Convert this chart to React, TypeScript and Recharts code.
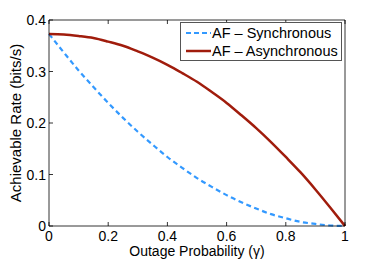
import React from 'react';
import { Line, LineChart, XAxis, YAxis } from 'recharts';

const outage = [0, 0.05, 0.1, 0.15, 0.2, 0.25, 0.3, 0.35, 0.4, 0.45, 0.5, 0.55, 0.6, 0.65, 0.7, 0.75, 0.8, 0.85, 0.9, 0.95, 1];
const synchronous = [0.373, 0.337, 0.302, 0.27, 0.239, 0.21, 0.183, 0.158, 0.134, 0.113, 0.093, 0.076, 0.06, 0.046, 0.034, 0.023, 0.015, 0.008, 0.004, 0.001, 0];
const asynchronous = [0.373, 0.372, 0.369, 0.365, 0.358, 0.35, 0.339, 0.327, 0.313, 0.297, 0.28, 0.26, 0.239, 0.215, 0.19, 0.163, 0.134, 0.104, 0.071, 0.036, 0];
const xTicks = [0, 0.2, 0.4, 0.6, 0.8, 1];
const yTicks = [0, 0.1, 0.2, 0.3, 0.4];

const data = outage.map((g, i) => ({ g, sync: synchronous[i], async: asynchronous[i] }));

const BLUE = '#3399ff';
const RED = '#a01c0c';
const FONT = '"Liberation Sans", Arial, sans-serif';

const BottomTick = ({ x, y, payload }: any) => (
  <g>
    <line x1={x} x2={x} y1={y} y2={y - 4} stroke="#000" strokeWidth={0.8} />
    <text x={x} y={y + 15} textAnchor="middle" fontSize={14} fontFamily={FONT} fill="#000">
      {payload.value}
    </text>
  </g>
);

const TopTick = ({ x, y }: any) => (
  <line x1={x} x2={x} y1={y} y2={y + 4} stroke="#000" strokeWidth={0.8} />
);

const LeftTick = ({ x, y, payload }: any) => (
  <g>
    <line x1={x} x2={x + 4} y1={y} y2={y} stroke="#000" strokeWidth={0.8} />
    <text x={x - 3} y={y + 5} textAnchor="end" fontSize={14} fontFamily={FONT} fill="#000">
      {payload.value}
    </text>
  </g>
);

const RightTick = ({ x, y }: any) => (
  <line x1={x} x2={x - 4} y1={y} y2={y} stroke="#000" strokeWidth={0.8} />
);

const LegendBox = () => (
  <div
    style={{
      position: 'absolute',
      left: 180,
      top: 22,
      border: '1px solid #555',
      background: '#fff',
      width: 162,
      height: 39,
      fontFamily: FONT,
      fontSize: 14.5,
      lineHeight: '18px',
      padding: '1px 0 0 4px',
      boxSizing: 'border-box',
    }}
  >
    <div style={{ display: 'flex', alignItems: 'center' }}>
      <svg width={26} height={10}>
        <line x1={1} x2={26} y1={5} y2={5} stroke={BLUE} strokeWidth={2} strokeDasharray="5 3" />
      </svg>
      <span style={{ marginLeft: 1 }}>AF – Synchronous</span>
    </div>
    <div style={{ display: 'flex', alignItems: 'center' }}>
      <svg width={26} height={10}>
        <line x1={1} x2={26} y1={5} y2={5} stroke={RED} strokeWidth={2.5} />
      </svg>
      <span style={{ marginLeft: 1 }}>AF – Asynchronous</span>
    </div>
  </div>
);

const axisLine = { stroke: '#000', strokeWidth: 0.8 };

export default function App() {
  return (
    <div style={{ position: 'absolute', left: 0, top: 0, width: 382, height: 261, background: '#fff' }}>
      <LineChart
        width={382}
        height={261}
        data={data}
        margin={{ left: 9, right: 36, top: 19, bottom: 5 }}
      >
        <XAxis
          dataKey="g"
          type="number"
          domain={[0, 1]}
          ticks={xTicks}
          height={30}
          tickSize={0}
          tickMargin={0}
          tickLine={false}
          tick={<BottomTick />}
          axisLine={axisLine}
        />
        <XAxis
          xAxisId="top"
          orientation="top"
          dataKey="g"
          type="number"
          domain={[0, 1]}
          ticks={xTicks}
          height={1}
          tickSize={0}
          tickMargin={0}
          tickLine={false}
          tick={<TopTick />}
          axisLine={axisLine}
        />
        <YAxis
          type="number"
          domain={[0, 0.4]}
          ticks={yTicks}
          width={40}
          tickSize={0}
          tickMargin={0}
          tickLine={false}
          tick={<LeftTick />}
          axisLine={axisLine}
        />
        <YAxis
          yAxisId="right"
          orientation="right"
          type="number"
          domain={[0, 0.4]}
          ticks={yTicks}
          width={1}
          tickSize={0}
          tickMargin={0}
          tickLine={false}
          tick={<RightTick />}
          axisLine={axisLine}
        />
        <Line
          dataKey="sync"
          type="monotone"
          stroke={BLUE}
          strokeWidth={2.2}
          strokeDasharray="5 3.5"
          dot={false}
          isAnimationActive={false}
        />
        <Line
          dataKey="async"
          type="monotone"
          stroke={RED}
          strokeWidth={2.5}
          dot={false}
          isAnimationActive={false}
        />
      </LineChart>
      <LegendBox />
      <svg style={{ position: 'absolute', left: 0, top: 0 }} width={382} height={261} pointerEvents="none">
        <text
          x={0}
          y={0}
          transform="translate(21 123) rotate(-90)"
          textAnchor="middle"
          fontSize={15}
          fontFamily={FONT}
          fill="#000"
        >
          Achievable Rate (bits/s)
        </text>
        <text x={197} y={256} textAnchor="middle" fontSize={14} fontFamily={FONT} fill="#000">
          Outage Probability (γ)
        </text>
      </svg>
    </div>
  );
}
